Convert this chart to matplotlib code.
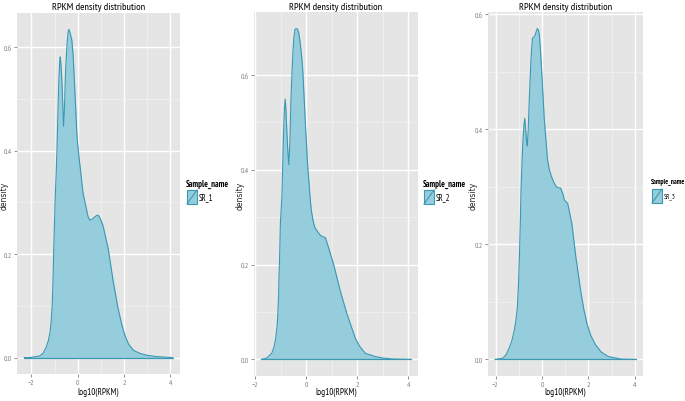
import numpy as np
import matplotlib
matplotlib.use("Agg")
import matplotlib.pyplot as plt
from matplotlib.patches import Rectangle
from matplotlib.lines import Line2D

# density curves (log10(RPKM), density)
sr1_x = [-2.30, -2.09, -1.65, -1.50, -1.36, -1.27, -1.19, -1.14, -1.10, -1.07, -1.04,
         -1.00, -0.96, -0.93, -0.89, -0.86, -0.81, -0.77, -0.75, -0.72, -0.67, -0.63,
         -0.61, -0.58, -0.52, -0.46, -0.41, -0.38, -0.33, -0.25, -0.19, -0.13, -0.03,
         0.05, 0.12, 0.23, 0.38, 0.45, 0.52, 0.62, 0.74, 0.84, 0.91, 1.00, 1.10,
         1.32, 1.54, 1.75, 1.90, 2.04, 2.20, 2.41, 2.70, 2.99, 3.40, 3.71, 4.10]
sr1_y = [0.000, 0.000, 0.003, 0.008, 0.020, 0.032, 0.050, 0.072, 0.100, 0.140, 0.197,
         0.262, 0.320, 0.352, 0.408, 0.460, 0.540, 0.575, 0.581, 0.565, 0.524, 0.470,
         0.447, 0.470, 0.556, 0.605, 0.630, 0.634, 0.628, 0.613, 0.580, 0.524, 0.428,
         0.390, 0.363, 0.318, 0.287, 0.272, 0.266, 0.267, 0.272, 0.275, 0.274, 0.266, 0.254,
         0.210, 0.146, 0.094, 0.065, 0.043, 0.026, 0.014, 0.008, 0.0045, 0.002, 0.001, 0.000]

sr2_x = [-1.75, -1.54, -1.35, -1.26, -1.19, -1.14, -1.11, -1.08, -1.06, -1.03, -1.01,
         -0.95, -0.89, -0.85, -0.82, -0.79, -0.76, -0.72, -0.68, -0.64, -0.60, -0.56,
         -0.52, -0.48, -0.44, -0.40, -0.34, -0.29, -0.24, -0.18, -0.13, -0.04, 0.05,
         0.16, 0.20, 0.26, 0.33, 0.44, 0.55, 0.68, 0.75, 0.85, 1.07, 1.33, 1.60,
         1.92, 2.10, 2.31, 2.71, 3.00, 3.36, 4.08]
sr2_y = [0.000, 0.003, 0.013, 0.026, 0.045, 0.070, 0.095, 0.135, 0.180, 0.235, 0.287,
         0.345, 0.471, 0.530, 0.549, 0.525, 0.485, 0.440, 0.411, 0.455, 0.542, 0.600,
         0.648, 0.680, 0.696, 0.698, 0.697, 0.688, 0.670, 0.640, 0.606, 0.506, 0.414,
         0.336, 0.315, 0.295, 0.279, 0.270, 0.262, 0.258, 0.257, 0.240, 0.201, 0.145, 0.095,
         0.045, 0.027, 0.013, 0.006, 0.003, 0.001, 0.000]

sr3_x = [-2.02, -1.69, -1.55, -1.41, -1.30, -1.20, -1.12, -1.06, -1.01, -0.97, -0.93,
         -0.90, -0.86, -0.83, -0.78, -0.74, -0.70, -0.66, -0.63, -0.59, -0.55, -0.47,
         -0.41, -0.36, -0.32, -0.26, -0.20, -0.15, -0.11, -0.06, -0.01, 0.10, 0.24,
         0.33, 0.41, 0.52, 0.62, 0.72, 0.80, 0.90, 0.97, 1.11, 1.29, 1.46, 1.67,
         1.80, 1.95, 2.10, 2.30, 2.55, 2.86, 3.42, 4.05]
sr3_y = [0.000, 0.002, 0.008, 0.020, 0.032, 0.049, 0.068, 0.090, 0.130, 0.178, 0.240,
         0.295, 0.340, 0.371, 0.405, 0.419, 0.400, 0.378, 0.371, 0.400, 0.447, 0.523,
         0.558, 0.560, 0.561, 0.568, 0.575, 0.572, 0.564, 0.535, 0.500, 0.418, 0.347,
         0.328, 0.318, 0.307, 0.300, 0.298, 0.298, 0.288, 0.277, 0.271, 0.236, 0.178, 0.119,
         0.088, 0.061, 0.042, 0.026, 0.013, 0.005, 0.0006, 0.000]

samples = ["SR_1", "SR_2", "SR_3"]
curves = [(sr1_x, sr1_y), (sr2_x, sr2_y), (sr3_x, sr3_y)]

W, H = 685, 402
# panel boxes in pixels: left, right, top, bottom
boxes = [(17, 180, 14, 375), (254, 418, 13, 377), (488, 643, 13, 377)]
ylab_x = [4, 240, 473]
leg_x = [186, 423, 651]
leg_y = [184, 184, 183]
leg_fs = [6.2, 6.2, 5.0]

narrow = ["PT Sans Narrow", "Archivo Narrow", "DejaVu Sans"]
fill_c = "#96CDDC"
line_c = "#3A98B3"
grey = "#7F7F7F"

fig = plt.figure(figsize=(W / 100, H / 100), dpi=100)
fig.patch.set_facecolor("white")

for i, ((xs, ys), name) in enumerate(zip(curves, samples)):
    l, r, t, b = boxes[i]
    ax = fig.add_axes([l / W, 1 - b / H, (r - l) / W, (b - t) / H])
    ax.set_facecolor("#E5E5E5")
    xs = np.array(xs); ys = np.array(ys)
    ax.fill_between(xs, 0, ys, color=fill_c, lw=0, zorder=3)
    ax.plot(xs, ys, color=line_c, lw=0.8, zorder=4, solid_joinstyle="round")
    ax.plot([xs[0], xs[-1]], [0, 0], color=line_c, lw=0.9, zorder=4)

    xpad = 0.05 * (xs.max() - xs.min())
    ax.set_xlim(xs.min() - xpad, xs.max() + xpad)
    ypad = 0.05 * ys.max()
    ax.set_ylim(-ypad, ys.max() + ypad)

    ax.set_xticks([-2, 0, 2, 4])
    ax.set_xticks([-1, 1, 3], minor=True)
    ax.set_yticks([0.0, 0.2, 0.4, 0.6])
    ax.set_yticks([0.1, 0.3, 0.5], minor=True)
    ax.set_yticklabels(["0.0", "0.2", "0.4", "0.6"])
    ax.grid(which="major", color="white", lw=1.0, zorder=1)
    ax.grid(which="minor", color="#F2F2F2", lw=0.5, zorder=1)
    ax.set_axisbelow(True)
    for s in ax.spines.values():
        s.set_visible(False)
    ax.tick_params(which="major", length=2, width=0.6, color=grey, pad=1.5,
                   labelsize=5.5, labelcolor=grey)
    ax.tick_params(which="minor", length=0)
    for lab in ax.get_xticklabels() + ax.get_yticklabels():
        lab.set_family(narrow)

    cx = (l + r) / 2 / W
    fig.text(cx, 1 - 7 / H, "RPKM density distribution", fontsize=7.5,
             family=narrow, ha="center", va="center")
    fig.text(cx, 1 - 392 / H, "log10(RPKM)", fontsize=6.5, family=narrow,
             ha="center", va="center")

    fig.text(ylab_x[i] / W, 1 - 196 / H, "density", rotation=90, fontsize=5.5,
             ha="center", va="center", color="#222222")

    # legend drawn like a ggplot key
    lx, ly = leg_x[i], leg_y[i]
    fig.text(lx / W, 1 - ly / H, "Sample_name", fontsize=leg_fs[i], family=narrow,
             fontweight="bold", ha="left", va="center")
    kx0, ky0, kw, kh = lx + 1, ly + 7, 10, 14
    fig.patches.append(Rectangle((kx0 / W, 1 - (ky0 + kh) / H), kw / W, kh / H,
                                 transform=fig.transFigure, facecolor=fill_c,
                                 edgecolor=line_c, lw=0.8))
    fig.lines.append(Line2D([kx0 / W, (kx0 + kw) / W],
                            [1 - (ky0 + kh) / H, 1 - ky0 / H],
                            transform=fig.transFigure, color=line_c, lw=0.8))
    fig.text((kx0 + kw + 2) / W, 1 - (ky0 + kh / 2) / H, name, fontsize=leg_fs[i],
             family=narrow, ha="left", va="center")

fig.savefig("out.png", dpi=100)
